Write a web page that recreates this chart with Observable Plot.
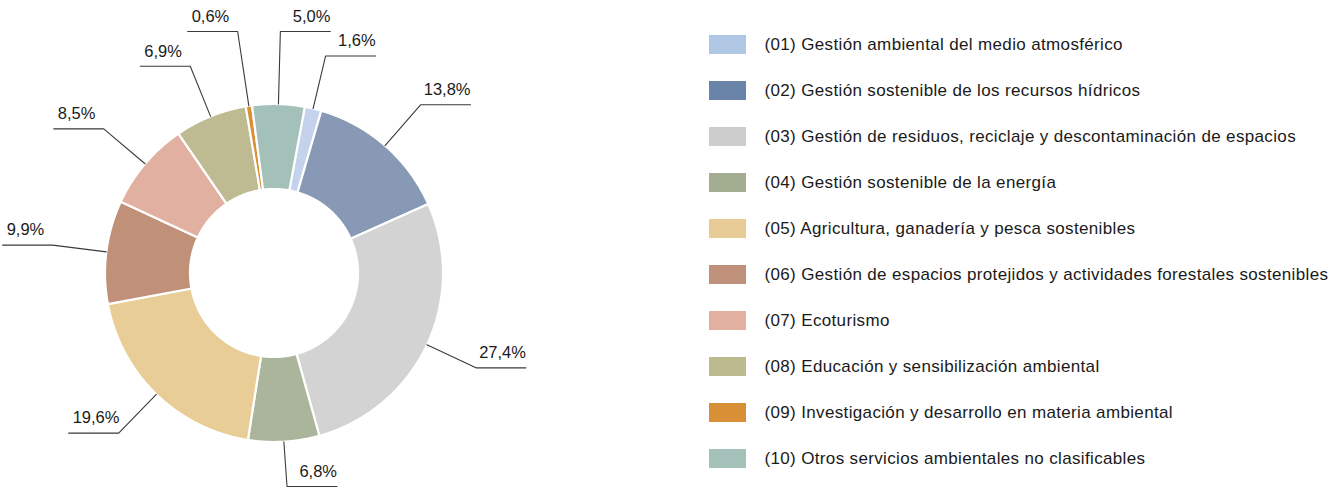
<!DOCTYPE html>
<html>
<head>
<meta charset="utf-8">
<script src="https://cdn.jsdelivr.net/npm/d3@7"></script>
<script src="https://cdn.jsdelivr.net/npm/@observablehq/plot@0.6"></script>
<style>
  html, body { margin: 0; padding: 0; background: #ffffff; }
  #chart svg { display: block; }
  #chart svg .legend-text { letter-spacing: 0.35px; }
</style>
</head>
<body>
<div id="chart"></div>
<script>
// ---- Data ----
const categories = [
  "(01) Gestión ambiental del medio atmosférico",
  "(02) Gestión sostenible de los recursos hídricos",
  "(03) Gestión de residuos, reciclaje y descontaminación de espacios",
  "(04) Gestión sostenible de la energía",
  "(05) Agricultura, ganadería y pesca sostenibles",
  "(06) Gestión de espacios protejidos y actividades forestales sostenibles",
  "(07) Ecoturismo",
  "(08) Educación y sensibilización ambiental",
  "(09) Investigación y desarrollo en materia ambiental",
  "(10) Otros servicios ambientales no clasificables"
];
const shares = [1.6, 13.8, 27.4, 6.8, 19.6, 9.9, 8.5, 6.9, 0.6, 5.0];
const sliceColors = ["#c4d2eb", "#8799b5", "#d3d3d3", "#abb59c", "#e8cd96", "#c09178", "#e1b0a0", "#beba91", "#d98f35", "#a3c0b9"];
const legendColors = ["#afc7e3", "#6a83a8", "#cdcdcd", "#a3ae90", "#e8cc96", "#c0917a", "#e2b0a0", "#bdba90", "#d98f35", "#a3c0b9"];

// ---- Layout ----
const W = 1335, H = 488;
const cx = 273.5, cy = 272.5, R = 169, R0 = 84, startDeg = 10.5;
const elbowK = 1.32, tail = 50, labelTop = 31, labelBottom = 486, topZoneDeg = 10;
const legendX = 709, legendSwW = 37, legendSwH = 19, legendTextX = 764, legendY0 = 44.5, legendStep = 46;
const font = "'Liberation Sans', Arial, Helvetica, sans-serif";

const fmt = v => v.toFixed(1).replace(".", ",") + "%";
const total = d3.sum(shares);
const rad = deg => deg * Math.PI / 180;
const pt = (deg, r) => [cx + r * Math.sin(rad(deg)), cy - r * Math.cos(rad(deg))];

let acc = 0;
const slices = shares.map((v, i) => {
  const a0 = startDeg + acc / total * 360;
  acc += v;
  const a1 = startDeg + acc / total * 360;
  return { i, v, a0, a1, mid: (a0 + a1) / 2 };
});

// ring polygons
const ring = [];
for (const s of slices) {
  const n = Math.max(2, Math.ceil((s.a1 - s.a0) / 0.5));
  for (let k = 0; k <= n; k++) {
    const [x, y] = pt(s.a0 + (s.a1 - s.a0) * k / n, R);
    ring.push({ cat: categories[s.i], color: sliceColors[s.i], x, y });
  }
  for (let k = n; k >= 0; k--) {
    const [x, y] = pt(s.a0 + (s.a1 - s.a0) * k / n, R0);
    ring.push({ cat: categories[s.i], color: sliceColors[s.i], x, y });
  }
}

// leaders and labels
const leaders = [];
const labels = [];
for (const s of slices) {
  const right = Math.sin(rad(s.mid)) >= 0;
  const [x1, y1] = pt(s.mid, R);
  let x2, y2;
  const m = ((s.mid % 360) + 360) % 360;
  if (m < topZoneDeg || m > 360 - topZoneDeg) {
    // crowded top: lift to the top band along the radial direction
    y2 = labelTop;
    x2 = cx + (cy - labelTop) * Math.tan(rad(s.mid));
  } else {
    [x2, y2] = pt(s.mid, R * elbowK);
    y2 = Math.max(labelTop, Math.min(labelBottom, y2));
  }
  const x3 = right ? x2 + tail : x2 - tail;
  leaders.push({ id: s.i, x: x1, y: y1 }, { id: s.i, x: x2, y: y2 }, { id: s.i, x: x3, y: y2 });
  labels.push({
    text: fmt(s.v),
    x: right ? x3 : x3 + 4,
    y: y2 - 15,
    anchor: right ? "end" : "start"
  });
}

const legend = categories.map((c, i) => ({ c, color: legendColors[i], y: legendY0 + i * legendStep }));

const chart = Plot.plot({
  width: W,
  height: H,
  margin: 0,
  x: { domain: [0, W], range: [0, W], axis: null },
  y: { domain: [0, H], range: [0, H], axis: null },
  color: { type: "identity" },
  style: { fontFamily: font, background: "#ffffff" },
  marks: [
    Plot.line(ring, {
      x: "x", y: "y", z: "cat", fill: "color",
      stroke: "#ffffff", strokeWidth: 2.2, strokeLinejoin: "round",
      curve: "linear-closed"
    }),
    Plot.line(leaders, { x: "x", y: "y", z: "id", stroke: "#3a3a3a", strokeWidth: 1.1 }),
    ...["end", "start"].map(a => Plot.text(labels.filter(d => d.anchor === a), {
      x: "x", y: "y", text: "text", textAnchor: a, lineAnchor: "middle",
      fontSize: 16.5, fill: "#1a1a1a"
    })),
    Plot.rect(legend, {
      x1: () => legendX, x2: () => legendX + legendSwW,
      y1: d => d.y - legendSwH / 2, y2: d => d.y + legendSwH / 2,
      fill: "color"
    }),
    Plot.text(legend, {
      x: () => legendTextX, y: "y", text: "c", textAnchor: "start", lineAnchor: "middle",
      fontSize: 17, fill: "#1a1a1a", className: "legend-text"
    })
  ]
});
document.getElementById("chart").appendChild(chart);
</script>
</body>
</html>
